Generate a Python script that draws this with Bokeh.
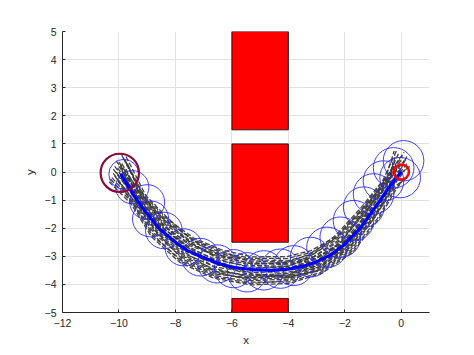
import numpy as np
from bokeh.plotting import figure
from bokeh.models import FixedTicker, Range1d
from bokeh.embed import file_html
from bokeh.resources import INLINE

# ---------------- data ----------------
x_ticks = [-12, -10, -8, -6, -4, -2, 0]
y_ticks = [-5, -4, -3, -2, -1, 0, 1, 2, 3, 4, 5]

# obstacles
obs_left = [-6, -6, -6]
obs_right = [-4, -4, -4]
obs_bottom = [1.5, -2.5, -5.0]
obs_top = [5.0, 1.0, -4.5]

# mean (planned) path
mean_x = [-9.94, -9.7, -9.36, -8.95, -8.59, -8.0, -7.59, -7.12, -6.5, -6.0, -5.3,
          -4.6, -4.0, -3.5, -3.0, -2.5, -2.0, -1.45, -1.1, -0.74, -0.4, -0.18, 0.0]
mean_y = [-0.08, -0.45, -1.0, -1.55, -2.0, -2.5, -2.79, -3.0, -3.25, -3.39, -3.47,
          -3.5, -3.46, -3.36, -3.2, -2.95, -2.57, -2.0, -1.5, -1.0, -0.5, -0.22, 0.0]

# anchor points of sampled trajectories and their inward normals
anc_x = [-9.36, -8.59, -7.59, -6.5, -5.3, -4.0, -3.0, -2.0, -1.1, -0.4]
anc_y = [-1.0, -2.0, -2.79, -3.25, -3.47, -3.46, -3.2, -2.57, -1.5, -0.5]
nrm_x = [0.88, 0.66, 0.52, 0.3, 0.05, -0.1, -0.43, -0.72, -0.81, -0.8]
nrm_y = [0.48, 0.75, 0.85, 0.95, 1.0, 1.0, 0.9, 0.7, 0.58, 0.6]

# sampled trajectories: start point, perpendicular offsets, end point
traj_start_x = [-9.8, -9.9, -10.0, -9.75, -10.1, -9.95, -10.2, -10.25, -10.3, -10.35,
                -9.85, -10.05, -9.7, -10.15, -9.9, -10.0, -9.8, -10.1, -9.95, -10.2,
                -9.75, -10.05, -9.9, -10.15]
traj_start_y = [0.45, 0.3, 0.2, 0.1, 0.0, -0.1, -0.05, -0.2, -0.25, -0.35,
                0.5, 0.15, 0.3, -0.15, 0.05, 0.35, -0.1, 0.4, 0.25, 0.1,
                0.55, -0.3, 0.6, 0.2]
traj_offsets = [
    [0.30, 0.45, 0.50, 0.50, 0.45, 0.45, 0.45, 0.40, 0.35, 0.30],
    [0.20, 0.30, 0.35, 0.35, 0.35, 0.30, 0.30, 0.30, 0.25, 0.20],
    [0.15, 0.20, 0.20, 0.25, 0.20, 0.20, 0.15, 0.10, 0.10, 0.10],
    [0.05, 0.10, 0.10, 0.10, 0.10, 0.05, 0.05, 0.05, 0.05, 0.00],
    [0.00, 0.00, -0.05, -0.05, 0.00, 0.00, -0.05, -0.05, 0.00, 0.05],
    [-0.05, -0.10, -0.15, -0.15, -0.10, -0.10, -0.10, -0.10, -0.05, 0.00],
    [-0.10, -0.15, -0.20, -0.25, -0.25, -0.20, -0.20, -0.20, -0.15, -0.10],
    [-0.15, -0.25, -0.30, -0.35, -0.35, -0.30, -0.30, -0.25, -0.20, -0.15],
    [-0.20, -0.35, -0.40, -0.45, -0.45, -0.45, -0.40, -0.35, -0.30, -0.20],
    [-0.25, -0.40, -0.50, -0.55, -0.55, -0.50, -0.45, -0.40, -0.35, -0.25],
    [0.25, 0.40, 0.42, 0.40, 0.40, 0.38, 0.38, 0.35, 0.30, 0.25],
    [0.10, 0.15, 0.25, 0.30, 0.30, 0.25, 0.20, 0.20, 0.15, 0.15],
    [0.18, 0.25, 0.30, 0.20, 0.15, 0.10, 0.22, 0.25, 0.20, 0.18],
    [-0.10, -0.20, -0.25, -0.30, -0.20, -0.15, -0.15, -0.15, -0.10, -0.05],
    [0.02, -0.05, -0.10, -0.30, -0.40, -0.35, -0.25, -0.12, -0.05, 0.02],
    [0.25, 0.35, 0.45, 0.45, 0.25, 0.15, 0.10, 0.15, 0.25, 0.28],
    [-0.05, -0.15, -0.35, -0.40, -0.30, -0.25, -0.35, -0.30, -0.20, -0.10],
    [0.20, 0.35, 0.30, 0.15, 0.05, 0.10, 0.30, 0.38, 0.32, 0.22],
    [0.12, 0.05, 0.00, 0.05, -0.15, -0.25, -0.10, 0.00, 0.08, 0.12],
    [-0.02, 0.08, 0.15, 0.05, -0.05, 0.02, 0.12, 0.08, -0.02, -0.08],
    [0.35, 0.48, 0.40, 0.30, 0.20, 0.25, 0.35, 0.45, 0.40, 0.32],
    [-0.18, -0.30, -0.45, -0.50, -0.50, -0.40, -0.30, -0.20, -0.15, -0.12],
    [0.28, 0.20, 0.10, -0.05, -0.20, -0.30, -0.20, -0.05, 0.15, 0.25],
    [0.08, 0.12, 0.05, -0.20, -0.30, -0.20, 0.00, 0.15, 0.20, 0.10],
]
traj_end_x = [0.1, 0.05, -0.2, 0.2, 0.0, -0.1, 0.15, -0.15, 0.25, 0.05,
              -0.25, 0.1, -0.05, 0.2, -0.3, 0.0, 0.15, -0.1, 0.3, -0.2,
              -0.15, 0.2, 0.05, -0.3]
traj_end_y = [0.7, 0.5, 0.6, 0.3, 0.0, -0.15, 0.1, 0.2, -0.1, -0.3,
              0.75, 0.4, 0.25, 0.55, 0.35, 0.1, 0.45, 0.65, 0.2, -0.05,
              0.8, -0.2, 0.6, 0.15]

# uncertainty circles along the path
circ_x = [-9.83, -9.53, -9.0, -8.88, -8.41, -7.71, -7.12, -6.52, -5.94, -5.46, -4.87,
          -4.28, -3.81, -3.22, -2.63, -2.16, -1.69, -1.33, -0.98, -0.63, -0.27, 0.08, -0.04]
circ_y = [-0.08, -0.54, -1.07, -1.67, -2.08, -2.68, -3.03, -3.27, -3.44, -3.57, -3.5,
          -3.44, -3.33, -3.03, -2.68, -2.32, -1.73, -1.25, -0.78, -0.32, 0.15, 0.4, -0.2]
circ_r = [0.53, 0.59, 0.62, 0.64, 0.65, 0.66, 0.67, 0.68, 0.68, 0.7, 0.7,
          0.7, 0.71, 0.71, 0.72, 0.72, 0.72, 0.72, 0.72, 0.72, 0.72, 0.72, 0.72]

start_x, start_y, start_r = [-9.97], [-0.03], [0.68]
goal_x, goal_y, goal_r = [0.0], [0.0], [0.27]

# ---------------- figure ----------------
p = figure(output_backend="svg", toolbar_location=None,
           frame_width=367, frame_height=281,
           min_border_left=62, min_border_top=31, min_border_right=37, min_border_bottom=30,
           x_range=Range1d(-12, 1), y_range=Range1d(-5, 5),
           x_axis_label="x", y_axis_label="y")
p.outline_line_color = None
p.background_fill_color = "white"

for ax in (p.xaxis[0], p.yaxis[0]):
    ax.axis_line_color = "#262626"
    ax.major_tick_line_color = "#262626"
    ax.major_tick_in = 3
    ax.major_tick_out = 0
    ax.minor_tick_line_color = None
    ax.major_label_text_font = "Liberation Sans"
    ax.major_label_text_font_size = "10.5px"
    ax.major_label_text_color = "#262626"
    ax.axis_label_text_font = "Liberation Sans"
    ax.axis_label_text_font_size = "11.5px"
    ax.axis_label_text_font_style = "normal"
    ax.axis_label_text_color = "#262626"
p.xaxis[0].ticker = FixedTicker(ticks=x_ticks)
p.yaxis[0].ticker = FixedTicker(ticks=y_ticks)
p.xaxis[0].major_label_standoff = 6
p.xaxis[0].axis_label_standoff = 4
p.yaxis[0].major_label_standoff = 6
p.yaxis[0].axis_label_standoff = 6

for g in (p.xgrid[0], p.ygrid[0]):
    g.grid_line_color = "#e2e2e2"
    g.grid_line_width = 1
p.xgrid[0].ticker = FixedTicker(ticks=x_ticks)
p.ygrid[0].ticker = FixedTicker(ticks=y_ticks)

# obstacles
p.quad(left=obs_left, right=obs_right, bottom=obs_bottom, top=obs_top,
       fill_color="#ff0000", line_color="black", line_width=0.8)

# trajectories
ax_ = np.array(anc_x); ay_ = np.array(anc_y)
nx_ = np.array(nrm_x); ny_ = np.array(nrm_y)
xs, ys = [], []
for i, off in enumerate(traj_offsets):
    off = np.array(off)
    tx = [traj_start_x[i]] + list(ax_ + off * nx_) + [traj_end_x[i]]
    ty = [traj_start_y[i]] + list(ay_ + off * ny_) + [traj_end_y[i]]
    xs.append(tx); ys.append(ty)
p.multi_line(xs=xs, ys=ys, line_color="#3a3a3a", line_width=1.3,
             line_dash="5 2", line_alpha=0.95)

# uncertainty circles
p.ellipse(x=circ_x, y=circ_y, width=[2 * r for r in circ_r], height=[2 * r for r in circ_r],
          fill_color=None, line_color="#2a2aff", line_width=0.9)

# mean path
p.line(mean_x, mean_y, line_color="#0000ff", line_width=3.2)

# start / goal circles
p.ellipse(x=start_x, y=start_y, width=[2 * r for r in start_r], height=[2 * r for r in start_r],
          fill_color=None, line_color="#8a0b3f", line_width=2.2)
p.ellipse(x=goal_x, y=goal_y, width=[2 * r for r in goal_r], height=[2 * r for r in goal_r],
          fill_color=None, line_color="#ff0000", line_width=2.5)

open("out.html", "w").write(file_html(p, INLINE))
